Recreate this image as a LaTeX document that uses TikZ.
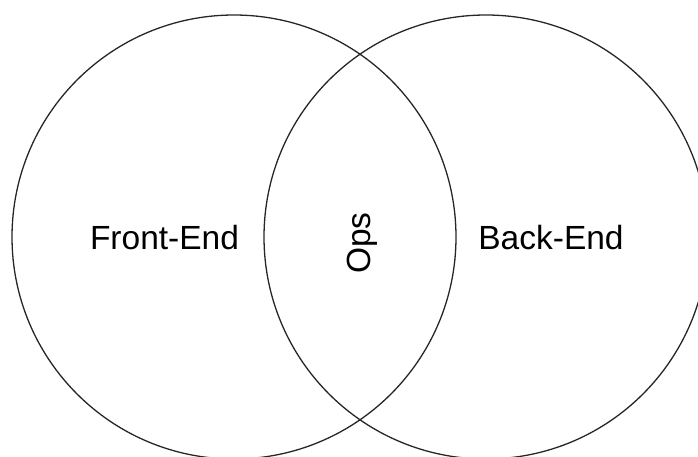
\documentclass[tikz,border=0pt]{standalone}
\usepackage{fontspec}
\setmainfont{Liberation Sans}
\usepackage{tikz}

\begin{document}
\begin{tikzpicture}[x=1pt, y=1pt, every node/.style={font=\fontsize{33.5}{40}\selectfont, inner sep=0pt},
  venn/.style={draw=black!85, line width=1.3pt, circle, minimum size=444pt, inner sep=0pt}]
  \useasboundingbox (0,0) rectangle (698,456);
  \clip (0,0) rectangle (698,456);
  \node[venn] (front) at (234,219) {};
  \node[venn] (back) at (486,219) {};
  \node[anchor=base] (frontlabel) at (164.5,207) {Front-End};
  \node[anchor=base] (backlabel) at (551,207) {Back-End};
  \node[anchor=base, rotate=90] (opslabel) at (370,213) {Ops};
\end{tikzpicture}
\end{document}
